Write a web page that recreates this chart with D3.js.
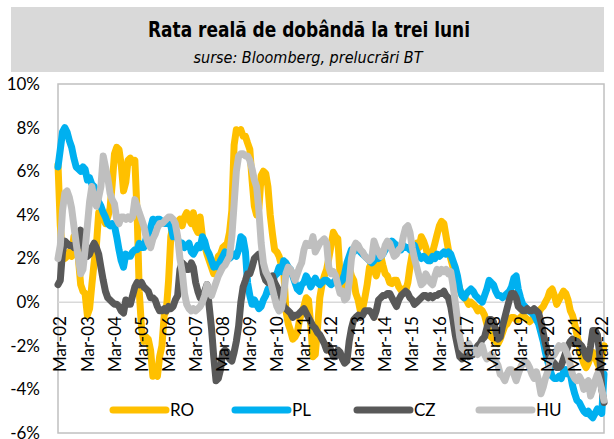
<!DOCTYPE html>
<html>
<head>
<meta charset="utf-8">
<title>Rata reala de dobanda la trei luni</title>
<style>
  body { margin: 0; background: #fff; }
  text { font-family: Lato, "Open Sans", sans-serif; fill: #000; }
  .title text { font-family: "Liberation Sans Narrow", "DejaVu Sans Condensed", sans-serif; }
</style>
</head>
<body>
<div class="plot_container"></div>
<script src="https://cdn.jsdelivr.net/npm/d3@7"></script>
<script>
// monthly series, Mar-2002 .. May-2022, one row per year (Mar..Feb)
var seriesNames = ["RO", "PL", "CZ", "HU"];
var seriesColors = ["#ffc000", "#00b0f0", "#595959", "#bfbfbf"];
var yTicks = [-6, -4, -2, 0, 2, 4, 6, 8, 10];
var tickYears = d3.range(2002, 2023);

var ro = [
  6.3, 3.5, 2.2, 2.0, 2.1, 2.3, 2.1, 3.0, 2.9, 2.0, 0.8, 0.5,
  0.4, -0.6, -0.3, 0.8, 1.8, 2.6, 4.1, 4.0, 3.9, 3.6, 3.9, 4.3,
  5.4, 6.8, 7.1, 7.0, 6.3, 5.1, 5.5, 6.5, 6.6, 6.4, 6.5, 4.0,
  0.5, -1.2, -1.8, -1.6, -1.7, -2.2, -3.4, -3.3, -3.4, -2.5, -2.0, -0.6,
  -0.4, 1.0, 3.0, 3.6, 3.5, 3.7, 3.8, 3.5, 3.9, 4.1, 3.8, 3.6,
  4.1, 3.4, 3.2, 3.9, 3.0, 2.6, 2.2, 1.9, 1.6, 1.3, 1.7, 2.1,
  2.2, 2.5, 2.6, 2.7, 3.2, 4.2, 7.2, 7.9, 7.8, 7.9, 7.6, 7.6,
  7.3, 7.0, 5.6, 4.4, 4.0, 4.3, 5.8, 6.0, 5.9, 5.3, 4.0, 3.1,
  2.4, 2.3, 2.1, 1.7, 1.5, -0.4, -1.0, -1.3, -1.7, -1.6, -1.4, -0.8,
  -0.5, -0.2, 0.2, 0.1, -1.0, -2.5, -2.4, -1.2, 0.2, 0.8, 1.2, 1.5,
  2.0, 2.6, 3.2, 3.0, 2.9, 1.2, 0.6, 0.4, 1.2, 1.6, 1.2, 1.0,
  0.4, 0.1, -0.4, -0.3, 0.2, 0.8, 1.6, 1.8, 1.5, 1.2, 1.6, 2.1,
  1.7, 1.3, 1.2, 0.9, 0.85, 1.0, 1.0, 0.7, 0.55, 0.6, 0.5, 0.9,
  1.6, 2.2, 2.5, 2.7, 2.5, 3.0, 2.8, 2.5, 2.1, 1.9, 2.3, 2.7,
  3.1, 3.5, 3.7, 3.6, 3.0, 2.4, 2.0, 1.6, 1.3, 1.0, 0.6, 0.3,
  0.2, 0.1, -0.1, 0.0, -0.1, -0.2, -0.4, -0.3, -0.4, -0.6, -1.0, -1.4,
  -1.6, -1.7, -1.8, -1.9, -1.7, -1.4, -1.1, -1.0, -0.8, -0.7, -0.7, -0.8,
  -0.8, -0.7, -0.6, -0.7, -0.8, -0.9, -0.8, -0.7, -0.5, -0.5, -0.3, -0.2,
  0.0, 0.2, 0.5, 0.6, 0.3, -0.1, 0.1, 0.3, 0.5, 0.4, 0.1, -0.4,
  -0.6, -1.0, -1.5, -2.0, -2.5, -2.8, -3.0, -2.8, -2.5, -2.3, -2.5, -2.8,
  -3.0, -2.5, -2.0
];

var pl = [
  6.2, 7.0, 7.8, 8.0, 7.8, 7.4, 7.1, 6.6, 6.2, 6.1, 6.0, 6.2,
  6.1, 5.6, 5.7, 5.4, 5.3, 4.8, 4.6, 4.4, 4.1, 3.9, 3.6, 3.5,
  3.6, 3.5, 3.0, 2.4, 1.9, 1.6, 2.2, 2.1, 2.1, 2.3, 2.4, 2.4,
  2.7, 2.5, 2.5, 2.9, 3.1, 3.4, 3.8, 3.7, 3.8, 3.8, 3.7, 3.6,
  3.6, 3.8, 3.5, 3.0, 3.1, 2.9, 2.6, 2.7, 2.5, 2.6, 2.7, 2.3,
  2.2, 2.4, 2.6, 2.5, 3.0, 2.8, 2.4, 2.2, 1.9, 1.6, 1.7, 1.6,
  1.9, 2.1, 2.3, 2.2, 2.0, 2.1, 2.2, 2.1, 2.4, 3.0, 2.9, 2.3,
  0.9, 0.3, -0.1, 0.1, -0.1, -0.3, -0.2, 0.1, 0.3, 0.6, 0.5, 0.9,
  1.2, 1.3, 1.6, 1.4, 1.9, 1.8, 1.6, 1.5, 1.2, 0.9, 0.6, 0.5,
  0.8, 0.9, 1.2, 1.0, 0.7, 0.9, 1.1, 0.9, 0.8, 0.9, 1.0, 1.0,
  0.9, 0.8, 0.9, 1.0, 0.8, 0.9, 1.0, 1.3, 1.8, 2.1, 2.4, 2.3,
  2.5, 2.5, 2.3, 2.2, 2.1, 2.0, 1.9, 1.8, 1.9, 2.1, 2.0, 2.1,
  2.2, 2.4, 2.5, 2.6, 2.8, 2.7, 2.6, 2.5, 2.4, 2.6, 2.5, 2.5,
  2.4, 2.5, 2.6, 2.3, 2.1, 2.0, 2.1, 2.0, 1.9, 1.9, 2.1, 2.0,
  2.2, 2.1, 2.2, 2.3, 2.2, 2.3, 2.2, 1.9, 1.6, 1.2, 0.6, 0.3,
  0.2, 0.4, 0.5, 0.6, 0.5, 0.3, 0.2, 0.1, 0.0, 0.3, 0.6, 1.0,
  0.9, 0.8, 0.5, 0.3, 0.3, 0.2, 0.3, 0.4, 0.5, 0.7, 1.1, 1.2,
  0.6, 0.2, -0.1, -0.2, -0.4, -0.4, -0.5, -0.6, -0.8, -1.0, -1.4, -1.8,
  -2.3, -2.7, -3.1, -3.4, -3.5, -3.5, -3.4, -3.5, -3.2, -3.1, -3.3, -3.3,
  -3.8, -4.2, -4.5, -4.6, -4.8, -5.0, -5.1, -5.0, -5.2, -5.3, -5.1, -4.9,
  -5.0, -5.1, -3.3
];

var cz = [
  0.8, 1.0, 2.3, 2.8, 2.7, 2.6, 2.6, 2.5, 2.7, 2.6, 3.3, 2.6,
  2.3, 2.1, 2.2, 2.5, 2.7, 2.5, 2.2, 1.6, 1.0, 0.5, 0.2, 0.1,
  0.0, -0.1, -0.1, -0.2, -0.4, -0.5, 0.1, -0.1, -0.1, 0.3, 0.7, 0.9,
  0.8, 0.9, 0.7, 0.6, 0.5, 0.2, 0.2, 0.1, -0.2, -0.4, -0.4, -0.3,
  -0.4, -0.2, -0.3, -0.2, 0.1, 0.3, 1.5, 1.8, 1.7, 1.5, 1.5, 1.8,
  1.6, 0.9, 0.5, 0.2, 0.1, 0.5, 0.8, -0.2, -1.2, -2.5, -3.6, -3.5,
  -3.1, -2.3, -2.2, -2.3, -2.6, -2.7, -2.3, -1.8, -1.1, 0.0, 0.7, 1.0,
  1.3, 1.3, 1.6, 2.0, 2.1, 2.2, 2.0, 1.3, 1.0, 0.9, 1.0, 1.2,
  0.9, 0.7, 0.5, 0.2, -0.2, -0.3, -0.4, -0.5, -0.7, -0.6, -0.6, -0.5,
  -0.4, -0.3, -0.5, -0.7, -0.9, -1.1, -1.2, -1.4, -1.5, -1.7, -1.9, -2.2,
  -2.0, -2.2, -2.5, -2.5, -2.2, -2.3, -2.6, -2.8, -2.7, -1.8, -1.2, -0.8,
  -0.7, -0.6, -0.7, -0.6, -0.4, -0.4, -0.4, -0.5, -0.7, -0.4, 0.1, 0.2,
  0.3, 0.3, 0.4, 0.4, 0.2, 0.0, -0.2, 0.1, 0.3, 0.4, 0.5, 0.4,
  0.2, 0.1, -0.1, 0.0, 0.1, 0.2, 0.3, 0.3, 0.2, 0.3, 0.2, 0.3,
  0.3, 0.4, 0.4, 0.5, 0.3, 0.2, -0.2, -0.8, -1.5, -2.0, -2.5, -2.6,
  -2.5, -2.4, -2.5, -2.3, -2.4, -2.2, -2.0, -1.9, -1.7, -1.6, -1.2, -0.8,
  -0.8, -0.9, -1.3, -1.7, -1.6, -1.1, -0.7, -0.3, 0.1, 0.4, 0.4, 0.2,
  -0.2, -0.3, -0.4, -0.4, -0.3, -0.4, -0.4, -0.3, -0.4, -0.5, -0.9, -1.4,
  -1.9, -2.3, -2.6, -2.7, -2.8, -3.0, -3.0, -2.9, -2.6, -2.3, -2.0, -1.8,
  -1.7, -1.9, -1.8, -1.9, -2.0, -2.2, -2.5, -2.6, -2.0, -1.3, -1.3, -1.5,
  -2.3, -4.0, -4.6
];

var hu = [
  2.0, 2.6, 4.2, 5.0, 5.1, 4.8, 4.3, 3.5, 2.7, 2.0, 1.3, 1.5,
  2.4, 3.5, 4.6, 5.3, 4.7, 4.4, 4.8, 5.3, 6.7, 6.2, 5.7, 5.0,
  4.7, 4.5, 3.8, 3.6, 3.9, 3.9, 3.8, 3.9, 3.8, 3.9, 4.7, 4.4,
  4.1, 3.8, 3.5, 3.0, 2.7, 2.5, 2.9, 3.1, 3.4, 3.6, 3.6, 3.7,
  3.8, 3.9, 3.9, 3.8, 3.6, 3.0, 2.0, 1.4, 0.4, -0.1, -0.3, -0.4,
  -0.3, -0.4, -0.3, -0.2, 0.0, 0.3, 0.8, 0.5, 0.3, 0.6, 0.9, 1.2,
  1.4, 1.6, 1.7, 1.9, 2.1, 3.0, 4.5, 6.0, 6.7, 6.8, 6.8, 6.7,
  6.7, 6.5, 6.1, 5.6, 5.3, 4.2, 2.7, 1.8, 1.4, 1.2, 1.0, 0.6,
  0.2, -0.2, -0.4, -0.3, 0.3, 1.3, 1.6, 1.5, 1.3, 1.0, 1.3, 1.6,
  1.8, 2.4, 2.7, 2.6, 2.6, 3.0, 2.3, 2.5, 2.7, 2.8, 2.9, 2.7,
  1.6, 1.3, 1.4, 1.2, 0.8, 0.4, 0.5, 0.1, 0.2, 0.9, 2.0, 2.5,
  2.7, 2.6, 2.4, 2.3, 2.1, 2.0, 1.9, 2.0, 2.8, 2.5, 2.3, 2.1,
  2.2, 2.6, 2.8, 2.7, 2.4, 2.1, 2.2, 2.4, 2.5, 3.0, 3.4, 3.5,
  3.2, 2.5, 2.0, 1.6, 1.2, 0.8, 0.9, 1.3, 1.1, 0.9, 0.8, 1.2,
  1.5, 1.3, 1.5, 1.4, 1.5, 1.3, 1.4, 0.8, 0.0, -0.8, -1.6, -2.1,
  -2.2, -2.0, -1.9, -2.1, -2.3, -2.2, -2.4, -2.2, -2.0, -2.4, -2.6, -2.5,
  -2.4, -2.6, -2.7, -2.9, -3.3, -3.4, -3.6, -3.3, -3.1, -3.1, -3.3, -3.6,
  -3.3, -3.0, -2.8, -2.7, -2.8, -3.0, -3.3, -3.5, -3.2, -3.6, -4.2, -3.9,
  -3.5, -3.2, -2.7, -2.5, -2.4, -2.2, -2.0, -2.1, -2.0, -2.2, -2.5, -2.9,
  -3.3, -3.5, -3.6, -3.4, -3.6, -4.0, -3.7, -3.6, -4.3, -4.0, -3.6, -3.3,
  -3.6, -4.0, -4.5
];

var allSeries = [ro, pl, cz, hu];

var width = 614, height = 439;
var plotLeft = 58, plotRight = 604, plotTop = 84, plotBottom = 433;

var svg = d3.select(".plot_container").append("svg")
    .attr("width", width)
    .attr("height", height);

svg.append("rect").attr("width", width).attr("height", height).attr("fill", "#fff");

// title band
var title = svg.append("g").attr("class", "title");
title.append("rect")
    .attr("x", 11).attr("y", 7).attr("width", 593).attr("height", 65)
    .attr("fill", "#d9d9d9");
title.append("text")
    .attr("x", 309).attr("y", 37)
    .attr("text-anchor", "middle")
    .attr("font-size", 21).attr("font-weight", "bold")
    .attr("textLength", 322).attr("lengthAdjust", "spacingAndGlyphs")
    .text("Rata reală de dobândă la trei luni");
title.append("text")
    .attr("x", 308).attr("y", 63)
    .attr("text-anchor", "middle")
    .attr("font-size", 16).attr("font-style", "italic")
    .attr("textLength", 229).attr("lengthAdjust", "spacingAndGlyphs")
    .text("surse: Bloomberg, prelucrări BT");

function monthDate(i) { return new Date(2002, 2 + i, 1); }

var x = d3.scaleTime()
    .domain([monthDate(0), monthDate(ro.length - 1)])
    .range([plotLeft, plotRight]);
var y = d3.scaleLinear().domain([-6, 10]).range([plotBottom, plotTop]);

// plot frame
svg.append("rect")
    .attr("x", plotLeft).attr("y", plotTop)
    .attr("width", plotRight - plotLeft).attr("height", plotBottom - plotTop)
    .attr("fill", "none").attr("stroke", "#c0c0c0").attr("stroke-width", 1.5);

// y axis labels
var yAxis = svg.append("g")
    .attr("transform", "translate(" + (plotLeft - 4) + ",0)")
    .call(d3.axisLeft(y).tickValues(yTicks).tickSize(0).tickPadding(14)
        .tickFormat(function(d){ return d + "%"; }));
yAxis.select(".domain").remove();
yAxis.selectAll("text").attr("font-size", 17).attr("font-family", "Lato");

// zero line
svg.append("line")
    .attr("x1", plotLeft).attr("x2", plotRight)
    .attr("y1", y(0)).attr("y2", y(0))
    .attr("stroke", "#d9d9d9").attr("stroke-width", 1.5);

// series lines
var line = d3.line()
    .x(function(d, i){ return x(monthDate(i)); })
    .y(function(d){ return y(d); });

svg.selectAll(".series")
    .data(allSeries)
    .enter()
    .append("path")
    .attr("class", "series")
    .attr("d", line)
    .attr("fill", "none")
    .attr("stroke", function(d, i){ return seriesColors[i]; })
    .attr("stroke-width", 7)
    .attr("stroke-linejoin", "round")
    .attr("stroke-linecap", "round");

// x axis labels, rotated, drawn over the lines
var xAxis = svg.append("g")
    .attr("transform", "translate(2," + y(0) + ")")
    .call(d3.axisBottom(x)
        .tickValues(tickYears.map(function(yr){ return new Date(yr, 2, 1); }))
        .tickSize(0)
        .tickFormat(function(d){ return "Mar-" + d3.timeFormat("%y")(d); }));
xAxis.select(".domain").remove();
xAxis.selectAll("text")
    .attr("font-size", 17).attr("font-family", "Lato")
    .attr("text-anchor", "end")
    .attr("dy", "0.35em")
    .attr("transform", "translate(0,14) rotate(-90)")
    .attr("y", 0).attr("x", 0);

// legend
var legend = svg.selectAll(".legend")
    .data(seriesNames)
    .enter()
    .append("g")
    .attr("class", "legend")
    .attr("transform", function(d, i){ return "translate(" + (113 + i * 122) + ",410)"; });
legend.append("line")
    .attr("x1", 0).attr("x2", 53)
    .attr("stroke", function(d, i){ return seriesColors[i]; })
    .attr("stroke-width", 7)
    .attr("stroke-linecap", "round");
legend.append("text")
    .attr("x", 57).attr("dy", "0.35em")
    .attr("font-size", 17)
    .text(function(d){ return d; });
</script>
</body>
</html>
